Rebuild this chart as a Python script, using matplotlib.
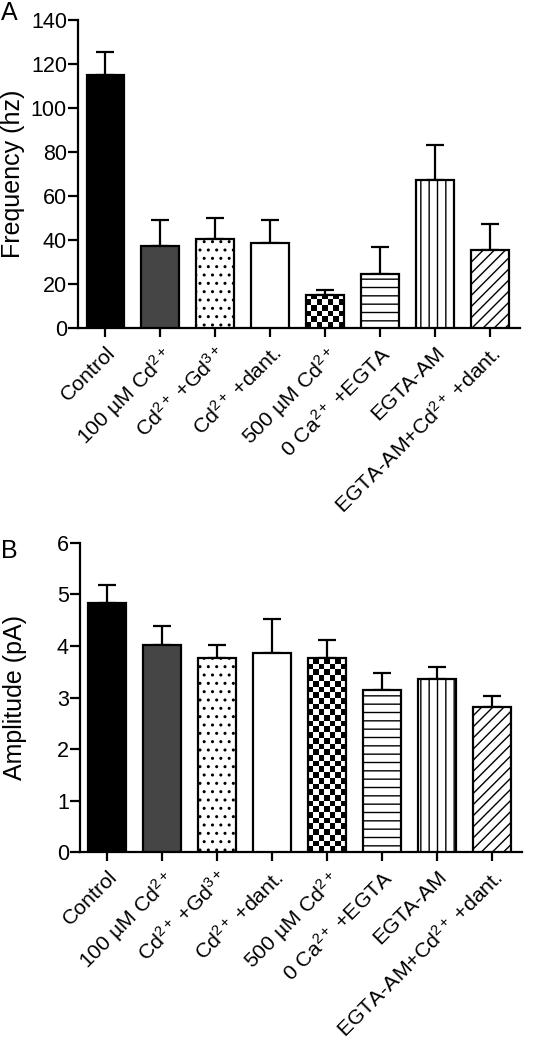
import numpy as np
import matplotlib
matplotlib.use("Agg")
import matplotlib.pyplot as plt

plt.rcParams['font.family'] = ['Liberation Sans', 'DejaVu Sans']
plt.rcParams['mathtext.fontset'] = 'custom'
plt.rcParams['mathtext.rm'] = 'Liberation Sans'
plt.rcParams['mathtext.it'] = 'Liberation Sans:italic'
plt.rcParams['mathtext.default'] = 'regular'
plt.rcParams['hatch.linewidth'] = 1.0

# data
labels = ['Control', '100 µM Cd$^{2+}$', 'Cd$^{2+}$ +Gd$^{3+}$', 'Cd$^{2+}$ +dant.',
          '500 µM Cd$^{2+}$', '0 Ca$^{2+}$ +EGTA', 'EGTA-AM', 'EGTA-AM+Cd$^{2+}$ +dant.']
freq = [115.2, 37.1, 40.5, 38.6, 14.8, 24.5, 67.3, 35.5]
freq_err = [10.1, 12.1, 9.4, 10.4, 2.6, 12.2, 15.9, 11.8]
amp = [4.84, 4.02, 3.77, 3.86, 3.77, 3.15, 3.35, 2.81]
amp_err = [0.34, 0.37, 0.25, 0.67, 0.34, 0.32, 0.24, 0.21]

fills = ['black', '#454545', 'white', 'white', 'white', 'white', 'white', 'white']
hatches = [None, None, '..', None, 'checker', '--', '||', '///']

fig = plt.figure(figsize=(5.47, 10.5), dpi=100)


def draw_panel(ax, vals, errs, ylim, yticks, ylabel):
    x = np.arange(len(vals))
    ax.set_xlim(-0.5, 7.55)
    ax.set_ylim(*ylim)
    bars = ax.bar(x, vals, width=0.69, color=fills, edgecolor='black', linewidth=1.6, zorder=3)
    ax.errorbar(x, vals, yerr=[np.zeros(len(errs)), errs], fmt='none', ecolor='black',
                elinewidth=1.6, capsize=6.5, capthick=1.6, zorder=2)

    # checkerboard cell size, about 5.7 px on screen
    ax_h = ax.get_position().height * fig.get_figheight() * fig.dpi
    cell = (ylim[1] - ylim[0]) * 5.7 / ax_h
    for b, h in zip(bars, hatches):
        if h == 'checker':
            x0, w, hgt = b.get_x(), b.get_width(), b.get_height()
            ny = max(1, int(round(hgt / cell)))
            nx = 7
            board = (np.indices((ny, nx)).sum(axis=0) % 2).astype(float)
            im = ax.imshow(board, cmap='gray', extent=(x0, x0 + w, 0, ny * cell),
                           origin='lower', aspect='auto', interpolation='nearest', zorder=3)
            im.set_clip_path(b)
            b.set_facecolor('none')
            b.set_zorder(4)
        elif h is not None:
            b.set_hatch(h)
    ax.set_xlim(-0.5, 7.55)
    ax.set_ylim(*ylim)

    ax.set_yticks(yticks)
    ax.set_xticks(x)
    ax.set_xticklabels(labels, rotation=45, ha='right', va='top', rotation_mode='anchor')
    for s in ['top', 'right']:
        ax.spines[s].set_visible(False)
    for s in ['left', 'bottom']:
        ax.spines[s].set_linewidth(1.6)
    ax.tick_params(axis='y', length=7, width=1.6, labelsize=15.5, pad=1)
    ax.tick_params(axis='x', length=6.5, width=1.6, labelsize=15.3, pad=4)
    ax.set_ylabel(ylabel, fontsize=18)
    ax.yaxis.set_label_coords(-0.12, 0.5)


axA = fig.add_axes([0.1426, 0.6876, 0.808, 0.2933])
draw_panel(axA, freq, freq_err, (0, 140), np.arange(0, 141, 20), 'Frequency (hz)')

axB = fig.add_axes([0.146, 0.1883, 0.808, 0.2948])
draw_panel(axB, amp, amp_err, (0, 6), np.arange(0, 7, 1), 'Amplitude (pA)')

fig.text(0.002, 0.999, 'A', fontsize=18, va='top', ha='left')
fig.text(0.002, 0.487, 'B', fontsize=18, va='top', ha='left')

fig.savefig('out.png', dpi=100)
